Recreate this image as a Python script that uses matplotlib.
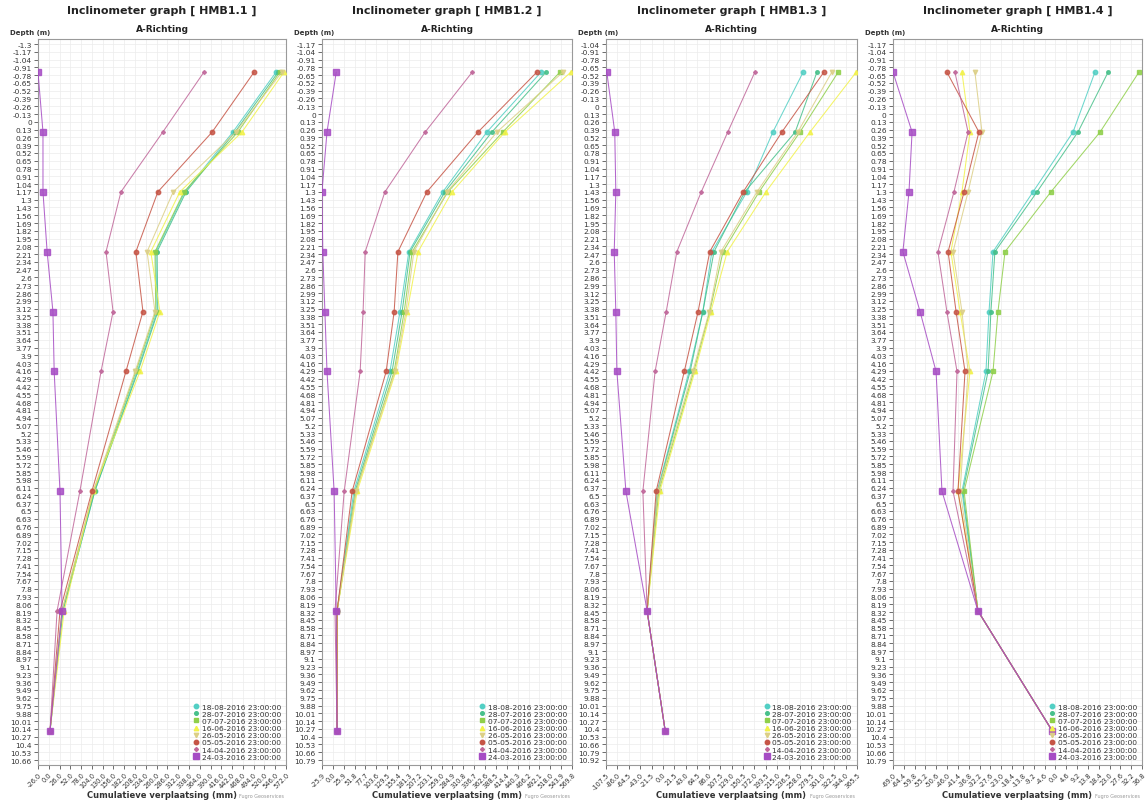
import numpy as np
import matplotlib
matplotlib.use("Agg")
import matplotlib.pyplot as plt
from matplotlib.lines import Line2D

plt.rcParams['font.family'] = ['DejaVu Sans']

W, H = 1146, 803

panel_names = ["HMB1.1", "HMB1.2", "HMB1.3", "HMB1.4"]
series_labels = ["18-08-2016 23:00:00", "28-07-2016 23:00:00", "07-07-2016 23:00:00",
                 "16-06-2016 23:00:00", "26-05-2016 23:00:00", "05-05-2016 23:00:00",
                 "14-04-2016 23:00:00", "24-03-2016 23:00:00"]
series_colors = ["#52cfc4", "#47c08a", "#8fcf4a", "#f2f24a", "#dccf86", "#c65546", "#c0679a", "#a64cc4"]
series_markers = ["o", "o", "s", "^", "v", "o", "D", "s"]
series_msize = [3.2, 2.6, 3.4, 3.2, 3.2, 3.2, 2.0, 3.8]

# depth axis: first tick label and step (depth ticks every 0.13 m, 93 ticks)
depth_first_tick = [-1.3, -1.17, -1.04, -1.17]
depth_step = 0.13
# x axis ticks: first, step, count
x_first_tick = [-26.0, -25.9, -107.5, -69.0]
x_step = [26.0, 25.9, 21.5, 4.6]
x_count = [24, 24, 23, 24]

# measurement depths (m)
depth_p1 = [-0.83, 0.17, 1.17, 2.17, 3.17, 4.17, 6.17, 8.17, 10.17]
depth_p2 = [-0.70, 0.30, 1.30, 2.30, 3.30, 4.30, 6.30, 8.30, 10.30]
depth_p3 = [-0.57, 0.43, 1.43, 2.43, 3.43, 4.43, 6.43, 8.43, 10.43]
depth_p4 = [-0.70, 0.30, 1.30, 2.30, 3.30, 4.30, 6.30, 8.30, 10.30]

# cumulative displacement (mm), series order as series_labels
p1 = [
    [548, 444, 328, 258, 261, 213, 111, 34, 3],
    [553, 449, 331, 261, 263, 215, 111, 34, 3],
    [557, 456, 326, 256, 258, 210, 109, 32, 3],
    [567, 466, 316, 246, 268, 220, 107, 37, 3],
    [562, 451, 300, 237, 256, 208, 107, 32, 3],
    [495, 394, 263, 210, 227, 186, 104, 27, 3],
    [374, 275, 174, 138, 155, 126, 75, 20, 3],
    [-26, -14, -14, -4, 10, 13, 27, 32, 3],
]
p2 = [
    [496, 367, 262, 181, 160, 136, 50, 10, 10],
    [508, 379, 267, 184, 165, 141, 53, 10, 10],
    [541, 405, 274, 189, 170, 146, 55, 10, 10],
    [567, 410, 284, 203, 177, 150, 58, 10, 10],
    [548, 391, 272, 193, 174, 148, 55, 10, 10],
    [486, 346, 224, 155, 146, 127, 46, 10, 10],
    [332, 220, 124, 77, 72, 65, 27, 5, 10],
    [8, -14, -26, -24, -19, -14, 3, 8, 10],
]
p3 = [
    [264, 207, 158, 92, 75, 49, -11, -30, 4],
    [290, 249, 154, 96, 75, 51, -10, -30, 4],
    [330, 258, 181, 113, 88, 58, -8, -30, 4],
    [364, 277, 194, 121, 90, 60, -6, -30, 4],
    [318, 254, 177, 109, 87, 56, -10, -30, 4],
    [303, 224, 151, 88, 66, 40, -13, -30, 4],
    [173, 122, 72, 26, 6, -15, -38, -30, 4],
    [-106, -91, -89, -92, -89, -87, -70, -30, 4],
]
p4 = [
    [16.8, 7.5, -9.5, -26.5, -28.2, -29.5, -39.7, -32.9, -1.4],
    [22.4, 9.6, -7.8, -25.7, -27.4, -28.6, -39.3, -32.9, -1.4],
    [35.5, 19.0, -1.9, -21.4, -24.4, -26.5, -38.8, -32.9, -1.4],
    [-39.7, -36.3, -39.7, -44.4, -40.5, -36.3, -41.4, -32.9, -1.4],
    [-34.2, -31.2, -37.1, -43.5, -39.7, -37.1, -40.5, -32.9, -1.4],
    [-46.1, -32.5, -38.8, -45.6, -42.2, -38.4, -41.4, -32.9, -1.4],
    [-42.7, -37.1, -43.1, -49.9, -46.1, -41.8, -43.5, -32.9, -1.4],
    [-69.0, -60.9, -62.2, -64.8, -57.5, -50.7, -48.2, -32.9, -1.4],
]
panel_data = [p1, p2, p3, p4]
panel_depths = [depth_p1, depth_p2, depth_p3, depth_p4]

# layout (pixels)
panel_left = [38, 322, 606, 893]
panel_right = [286, 572, 857, 1142]
top_px, bot_px = 40, 766

fig = plt.figure(figsize=(W / 100, H / 100), dpi=100)

for i in range(4):
    L, R = panel_left[i], panel_right[i]
    ax = fig.add_axes([L / W, 1 - bot_px / H, (R - L) / W, (bot_px - top_px) / H])
    yt = np.round(depth_first_tick[i] + depth_step * np.arange(93), 2) + 0.0
    xt = np.round(x_first_tick[i] + x_step[i] * np.arange(x_count[i]), 1) + 0.0
    pxs = (yt[-1] - yt[0]) / (761 - 45)
    ax.set_ylim(yt[-1] + (bot_px - 761) * pxs, yt[0] - (45 - top_px) * pxs)
    ax.set_xlim(xt[0], xt[-1])
    ax.set_yticks(yt)
    ax.set_yticklabels(['{:g}'.format(v) for v in yt], fontsize=5.3, color='#333333')
    ax.set_xticks(xt)
    ax.set_xticklabels(['{:.1f}'.format(v) for v in xt], fontsize=4.8, color='#333333',
                       rotation=45, ha='right', rotation_mode='anchor')
    ax.tick_params(axis='both', length=3, width=0.6, color='#555555', pad=1.5)
    ax.grid(True, color='#ececec', lw=0.5)
    ax.set_axisbelow(True)
    for s in ax.spines.values():
        s.set_color('#9a9a9a')
        s.set_linewidth(0.8)
    handles = []
    for k in range(8):
        ax.plot(panel_data[i][k], panel_depths[i], color=series_colors[k], lw=0.75, alpha=0.85,
                marker=series_markers[k], ms=series_msize[k], mec=series_colors[k], zorder=3 + k * 0.01)
        handles.append(Line2D([], [], ls='none', marker=series_markers[k], ms=series_msize[k],
                              color=series_colors[k]))
    ax.legend(handles, series_labels, loc='lower right', frameon=False, fontsize=5.4,
              handletextpad=0.2, labelspacing=0.12, borderaxespad=0.3, handlelength=1.0,
              labelcolor='#333333')
    cx = (L + R) / 2 / W
    fig.text(cx, 1 - 11 / H, "Inclinometer graph [ %s ]" % panel_names[i], ha='center', va='center',
             fontsize=8, fontweight='bold', color='#222222')
    fig.text(cx, 1 - 29 / H, "A-Richting", ha='center', va='center', fontsize=6.5,
             fontweight='bold', color='#222222')
    fig.text((L - 28) / W, 1 - 33 / H, "Depth (m)", ha='left', va='center', fontsize=5,
             fontweight='bold', color='#333333')
    fig.text(cx, 1 - 796 / H, "Cumulatieve verplaatsing (mm)", ha='center', va='center',
             fontsize=6, fontweight='bold', color='#333333')
    fig.text((R - 2) / W, 1 - 797 / H, "Fugro Geoservices", ha='right', va='center',
             fontsize=3.5, color='#999999')

fig.savefig("out.png", dpi=100)
